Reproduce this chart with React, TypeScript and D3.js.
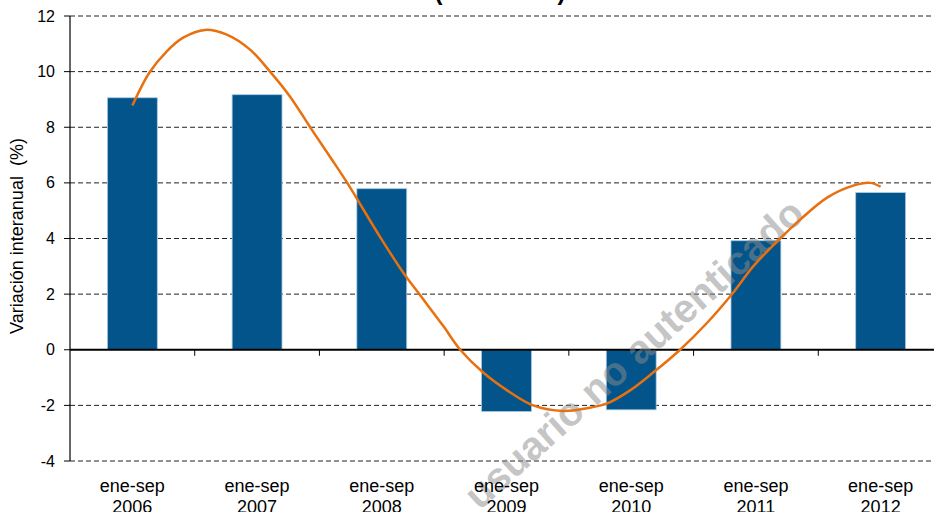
import React from "react";
import * as d3 from "d3";

const categories = ["2006", "2007", "2008", "2009", "2010", "2011", "2012"];
const catLabelTop = "ene-sep";
const barValues = [9.06, 9.17, 5.79, -2.22, -2.16, 3.92, 5.65];
const yTicks = [-4, -2, 0, 2, 4, 6, 8, 10, 12];

// trend curve: position in category index units, value
const trendPos = [0, 0.136, 0.276, 0.407, 0.583, 0.757, 0.944, 1.104, 1.265, 1.426, 1.586, 1.723, 1.987, 2.171, 2.284, 2.492, 2.629, 2.813, 3.005, 3.213, 3.454, 3.646, 3.807, 3.991, 4.176, 4.392, 4.609, 4.817, 4.978, 5.194, 5.355, 5.571, 5.78, 5.916, 6.0];
const trendVal = [8.78, 9.96, 10.73, 11.22, 11.5, 11.33, 10.79, 10.0, 9.1, 8.0, 6.93, 6.0, 4.05, 2.78, 2.1, 0.86, 0.0, -0.82, -1.46, -2.0, -2.2, -2.1, -1.93, -1.46, -0.82, 0.0, 0.97, 2.05, 3.0, 4.0, 4.68, 5.47, 5.9, 6.0, 5.86];

const W = 934;
const H = 512;
const left = 70;
const top = 16;
const bottom = 461;
const right = 943;

export default function App() {
  const x = d3
    .scaleBand<string>()
    .domain(categories)
    .range([left, right])
    .paddingInner(0.6)
    .paddingOuter(0.3);
  const step = x.step();
  const y = d3.scaleLinear().domain([-4, 12]).range([bottom, top]);
  const xc = d3
    .scaleLinear()
    .domain([0, categories.length - 1])
    .range([x(categories[0])! + x.bandwidth() / 2, x(categories[categories.length - 1])! + x.bandwidth() / 2]);

  const line = d3
    .line<number>()
    .x((_, i) => xc(trendPos[i]))
    .y((d) => y(d))
    .curve(d3.curveCatmullRom.alpha(0.5));

  const boundaries = categories.map((c) => x(c)! - (step * 0.6) / 2).slice(1);
  boundaries.push(x(categories[categories.length - 1])! + x.bandwidth() + (step * 0.6) / 2);

  return (
    <svg
      width={W}
      height={H}
      style={{ position: "absolute", left: 0, top: 0, background: "#fff" }}
      fontFamily="'Liberation Sans', Arial, sans-serif"
    >
      <rect x={0} y={0} width={W} height={H} fill="#fff" />
      {/* title (cut off at top) */}
      <text x={500} y={-0.5} textAnchor="middle" fontSize={24} fontWeight="bold" fill="#000">
        (2006-2012)
      </text>

      {/* gridlines */}
      {yTicks
        .filter((t) => t !== 0)
        .map((t) => (
          <line
            key={t}
            x1={left}
            x2={W}
            y1={y(t)}
            y2={y(t)}
            stroke="#222"
            strokeWidth={1}
            strokeDasharray="5,3"
          />
        ))}

      {/* bars */}
      {categories.map((c, i) => {
        const v = barValues[i];
        const y0 = y(0);
        const y1 = y(v);
        return (
          <rect
            key={c}
            x={x(c)}
            y={Math.min(y0, y1)}
            width={x.bandwidth()}
            height={Math.abs(y1 - y0)}
            fill="#02548A"
            stroke="#a9c9e0"
            strokeWidth={0.8}
          />
        );
      })}

      {/* zero line */}
      <line x1={left} x2={W} y1={y(0)} y2={y(0)} stroke="#000" strokeWidth={2} />
      {boundaries.map((b, i) => (
        <line key={i} x1={b} x2={b} y1={y(0)} y2={y(0) + 6} stroke="#000" strokeWidth={1} />
      ))}

      {/* y axis */}
      <line x1={left} x2={left} y1={top} y2={bottom} stroke="#000" strokeWidth={1.2} />
      {yTicks.map((t) => (
        <g key={t}>
          <line x1={left - 6} x2={left} y1={y(t)} y2={y(t)} stroke="#000" strokeWidth={1} />
          <text x={55} y={y(t)} dy="0.35em" textAnchor="end" fontSize={16} fill="#000">
            {t}
          </text>
        </g>
      ))}

      <text
        transform={`translate(23, 236) rotate(-90)`}
        textAnchor="middle"
        fontSize={18}
        fill="#000"
        style={{ whiteSpace: "pre" }}
      >
        {"Variación interanual  (%)"}
      </text>

      {/* watermark */}
      <text
        x={636}
        y={356}
        textAnchor="middle"
        dominantBaseline="middle"
        fontSize={40}
        fontWeight="bold"
        fill="#8c8c8c"
        fillOpacity={0.5}
        transform="rotate(-42 636 356)"
      >
        usuario no autenticado
      </text>

      {/* trend */}
      <path d={line(trendVal) || ""} fill="none" stroke="#E8700E" strokeWidth={2.5} />

      {/* x labels */}
      {categories.map((c) => {
        const cx = x(c)! + x.bandwidth() / 2;
        return (
          <text key={c} x={cx} textAnchor="middle" fontSize={18} fill="#000">
            <tspan x={cx} y={492}>
              {catLabelTop}
            </tspan>
            <tspan x={cx} y={513}>
              {c}
            </tspan>
          </text>
        );
      })}
    </svg>
  );
}
